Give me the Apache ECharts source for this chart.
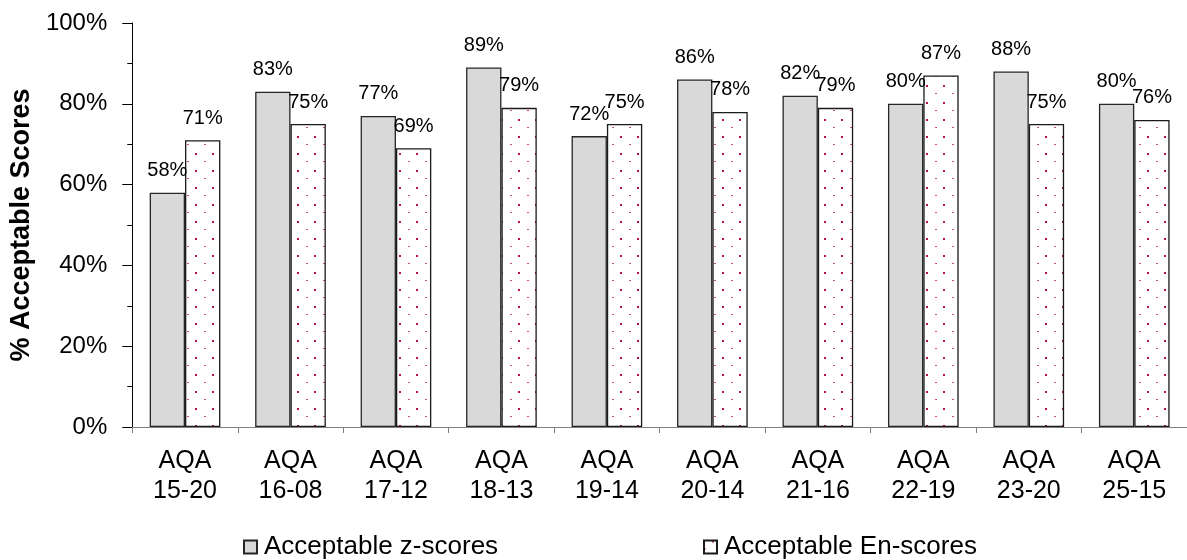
<!DOCTYPE html>
<html>
<head>
<meta charset="utf-8">
<script src="https://cdn.jsdelivr.net/npm/echarts@6/dist/echarts.min.js"></script>
<style>
html,body{margin:0;padding:0;background:#fff;}
#chart{width:1187px;height:560px;}
</style>
</head>
<body>
<div id="chart"></div>
<script>
const categories = ['AQA\n15-20','AQA\n16-08','AQA\n17-12','AQA\n18-13','AQA\n19-14','AQA\n20-14','AQA\n21-16','AQA\n22-19','AQA\n23-20','AQA\n25-15'];
const zScores = [58, 83, 77, 89, 72, 86, 82, 80, 88, 80];
const enScores = [71, 75, 69, 79, 75, 78, 79, 87, 75, 76];
const seriesNames = ['Acceptable z-scores', 'Acceptable En-scores'];
const yTicks = [0, 20, 40, 60, 80, 100];

const FONT = '"Liberation Sans", Arial, sans-serif';

// dotted pattern tile
const tile = document.createElement('canvas');
tile.width = 17; tile.height = 17;
const g = tile.getContext('2d');
g.fillStyle = '#ffffff';
g.fillRect(0, 0, 17, 17);
g.fillStyle = '#b81440';
g.fillRect(8, 0, 2, 2);
g.fillStyle = '#c8506e';
g.fillRect(0, 8, 2, 1);

const chart = echarts.init(document.getElementById('chart'), null, {renderer: 'canvas'});

const labelCfg = {
  show: true,
  position: 'top',
  distance: 12,
  formatter: '{c}%',
  color: '#000',
  fontFamily: FONT,
  fontSize: 20
};

const legendText = {fontFamily: FONT, fontSize: 26, color: '#000', padding: [0, 0, 0, 2]};

chart.setOption({
  animation: false,
  backgroundColor: '#ffffff',
  grid: {left: 128, top: 23, width: 1060, height: 404, containLabel: false},
  legend: [
    {
      data: [seriesNames[0]], left: 238, top: 529, icon: 'rect',
      itemWidth: 13, itemHeight: 13, itemGap: 0, textStyle: legendText
    },
    {
      data: [seriesNames[1]], left: 698, top: 529, icon: 'rect',
      itemWidth: 13, itemHeight: 13, itemGap: 0, textStyle: legendText
    }
  ],
  xAxis: {
    type: 'category',
    data: categories,
    boundaryGap: true,
    axisLine: {lineStyle: {color: '#808080', width: 1}},
    axisTick: {show: true, length: 6, alignWithLabel: false, lineStyle: {color: '#808080'}},
    axisLabel: {
      interval: 0, margin: 19, color: '#000', fontFamily: FONT, fontSize: 25, lineHeight: 30
    },
    splitLine: {show: false}
  },
  yAxis: {
    type: 'value',
    min: 0, max: 100, interval: 20,
    name: '% Acceptable Scores',
    nameLocation: 'middle',
    nameGap: 93,
    nameTextStyle: {fontFamily: FONT, fontSize: 27, fontWeight: 'bold', color: '#000'},
    axisLine: {show: true, lineStyle: {color: '#000', width: 1}},
    axisTick: {show: true, length: 10, lineStyle: {color: '#000'}},
    minorTick: {show: true, splitNumber: 2, length: 5, lineStyle: {color: '#000'}},
    axisLabel: {
      margin: 25, color: '#000', fontFamily: FONT, fontSize: 24,
      formatter: function (v) { return yTicks.indexOf(v) >= 0 ? v + '%' : ''; }
    },
    splitLine: {show: false}
  },
  series: [
    {
      name: seriesNames[0],
      type: 'bar',
      data: zScores,
      barWidth: '33.5%',
      barGap: '0%',
      itemStyle: {color: '#d9d9d9', borderColor: '#262626', borderWidth: 1.3},
      label: labelCfg
    },
    {
      name: seriesNames[1],
      type: 'bar',
      data: enScores,
      barWidth: '33.5%',
      barGap: '0%',
      itemStyle: {color: {image: tile, repeat: 'repeat'}, borderColor: '#1a1a1a', borderWidth: 1.3},
      label: labelCfg
    }
  ]
});
</script>
</body>
</html>
